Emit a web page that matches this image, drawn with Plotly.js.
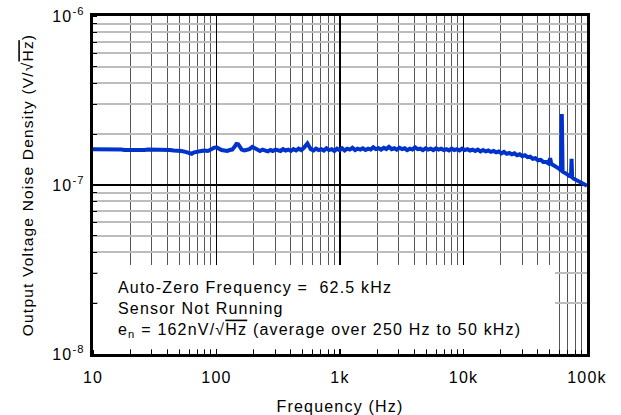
<!DOCTYPE html>
<html>
<head>
<meta charset="utf-8">
<script src="https://cdn.plot.ly/plotly-3.0.1.min.js"></script>
<style>
html,body{margin:0;padding:0;background:#fff;}
#chart{width:621px;height:415px;}
text{letter-spacing:1.2px;}
</style>
</head>
<body>
<div id="chart"></div>
<script>
// Frequency (Hz)
const freqHz = [
  10,11,12,13,14,15,16,17,18,19,20,22,24,26,28,30,33,36,39,42,45,48,52,56,60,63,66,70,75,80,85,90,95,100,
  105,110,116,122,128,134,140,145,150,155,160,168,176,185,195,205,215,225,236,248,260,273,286,300,315,330,346,363,381,400,420,441,463,486,510,530,545,560,580,610,640,672,705,740,777,816,857,900,945,992,
  1040,1090,1145,1200,1260,1325,1390,1460,1530,1610,1690,1770,1860,1950,2050,2150,2260,2370,2490,2620,2750,2880,3030,3180,3340,3500,3680,3860,4050,4260,4470,4690,4930,5170,5430,5700,5990,6290,6600,6930,7280,7640,8020,8420,8840,9290,9750,
  10240,10750,11290,11850,12440,13060,13720,14400,15120,15880,16670,17500,18380,19300,20260,21270,22340,23450,24620,25860,27150,28510,29930,31430,33000,34650,36380,38200,40110,42120,44220,46430,48750,50300,51500,53800,56500,59300,61500,62500,63500,65400,68700,72100,74200,75000,75800,78000,81900,86000,90300,94800,100000
];
// Noise density, in units of 1e-7 V/rtHz
const noise_e7 = [
  1.63,1.63,1.64,1.63,1.63,1.62,1.63,1.62,1.61,1.61,1.60,1.59,1.60,1.61,1.62,1.62,1.63,1.62,1.61,1.61,1.60,1.60,1.59,1.57,1.55,1.53,1.56,1.58,1.59,1.60,1.59,1.62,1.66,1.67,
  1.63,1.61,1.60,1.59,1.61,1.62,1.68,1.75,1.74,1.67,1.62,1.60,1.61,1.63,1.68,1.64,1.60,1.59,1.62,1.60,1.58,1.61,1.59,1.62,1.60,1.59,1.63,1.60,1.62,1.59,1.63,1.60,1.64,1.61,1.66,1.72,1.76,1.70,1.63,1.60,1.64,1.61,1.63,1.60,1.65,1.61,1.63,1.59,1.64,1.61,
  1.65,1.60,1.64,1.62,1.66,1.61,1.64,1.62,1.65,1.61,1.64,1.62,1.67,1.63,1.65,1.62,1.66,1.63,1.68,1.63,1.65,1.62,1.66,1.63,1.65,1.61,1.64,1.62,1.67,1.63,1.64,1.61,1.65,1.62,1.64,1.61,1.65,1.62,1.64,1.61,1.63,1.60,1.64,1.61,1.63,1.60,1.64,
  1.61,1.63,1.60,1.62,1.59,1.62,1.58,1.61,1.58,1.60,1.57,1.59,1.56,1.58,1.54,1.57,1.53,1.55,1.52,1.54,1.50,1.52,1.48,1.50,1.46,1.47,1.43,1.44,1.40,1.41,1.37,1.37,1.34,1.44,1.33,1.31,1.28,1.25,1.22,2.63,1.20,1.19,1.16,1.13,1.13,1.43,1.11,1.09,1.07,1.05,1.03,1.01,0.99
];
const noise = noise_e7.map(v => v * 1e-7);

const xTickVals = [10,100,1000,10000,100000];
const xTickText = ['10','100','1k','10k','100k'];
const yTickVals = [1e-8,1e-7,1e-6];
const yTickText = ['10<sup>-8</sup>','10<sup>-7</sup>','10<sup>-6</sup>'];

const FONT = 'Liberation Sans, Arial, sans-serif';

const trace = {
  x: freqHz, y: noise, type: 'scatter', mode: 'lines',
  line: {color: '#0033cc', width: 4}, hoverinfo: 'skip'
};

const layout = {
  width: 621, height: 415,
  margin: {l: 93, r: 34, t: 16, b: 61},
  paper_bgcolor: '#fff', plot_bgcolor: '#fff',
  showlegend: false,
  font: {family: FONT, color: '#000', size: 16},
  xaxis: {
    type: 'log', range: [1, 5],
    tickvals: xTickVals, ticktext: xTickText,
    ticks: '', ticklabelstandoff: 7,
    showgrid: true, gridcolor: '#000', gridwidth: 1.2,
    showline: true, linecolor: '#000', linewidth: 3, mirror: true,
    zeroline: false,
    tickfont: {size: 16, family: FONT},
    title: {text: 'Frequency (Hz)', font: {size: 16, family: FONT}, standoff: 16},
    minor: {dtick: 'D1', showgrid: true, gridcolor: '#555', gridwidth: 1, ticks: 'inside', ticklen: 4, tickcolor: '#000', tickwidth: 1}
  },
  yaxis: {
    type: 'log', range: [-8, -6],
    tickvals: yTickVals, ticktext: yTickText,
    ticks: '', ticklabelstandoff: 2,
    showgrid: true, gridcolor: '#000', gridwidth: 1.5,
    showline: true, linecolor: '#000', linewidth: 3, mirror: true,
    zeroline: false,
    tickfont: {size: 16, family: FONT},
    title: {text: "Output Voltage Noise Density (V/√<span style='text-decoration:overline'>Hz</span>)", font: {size: 15.5, family: FONT}, standoff: 15},
    minor: {dtick: 'D1', showgrid: true, gridcolor: '#bdbdbd', gridwidth: 2, ticks: 'inside', ticklen: 4, tickcolor: '#000', tickwidth: 1}
  },
  shapes: [{
    type: 'rect', xref: 'paper', yref: 'paper',
    xsizemode: 'pixel', ysizemode: 'pixel', xanchor: 0, yanchor: 0,
    x0: 5, x1: 462, y0: 5, y1: 89,
    fillcolor: '#fff', line: {width: 0}, layer: 'above'
  }],
  annotations: [{
    xref: 'paper', yref: 'paper', x: 0.047, y: 0.133, xanchor: 'left', yanchor: 'middle',
    align: 'left', showarrow: false,
    font: {size: 16, family: FONT, color: '#000'},
    text: "Auto-Zero Frequency =  62.5 kHz<br>Sensor Not Running<br>e<sub>n</sub> = 162nV/√<span style='text-decoration:overline'>Hz</span> (average over 250 Hz to 50 kHz)"
  }]
};

Plotly.newPlot('chart', [trace], layout, {staticPlot: true, displayModeBar: false});
</script>
</body>
</html>
